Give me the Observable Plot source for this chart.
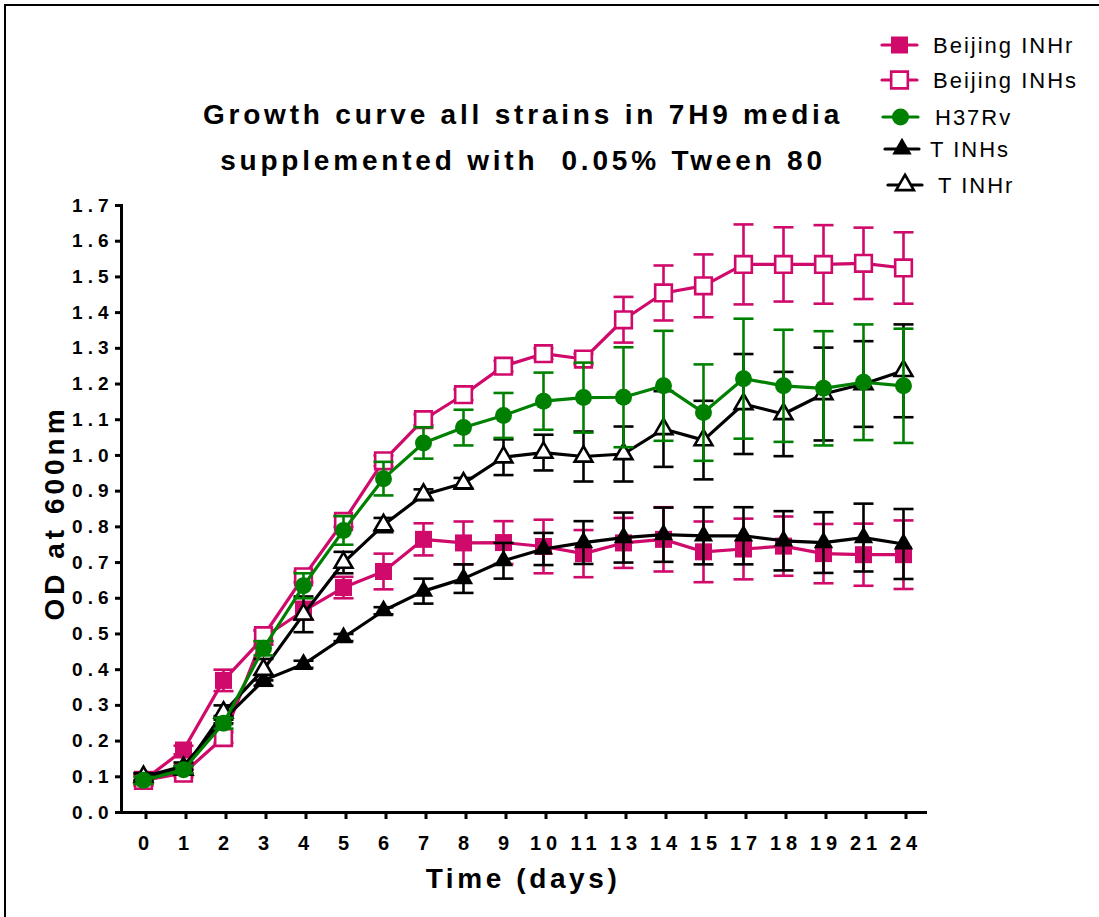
<!DOCTYPE html>
<html>
<head>
<meta charset="utf-8">
<script src="https://cdn.jsdelivr.net/npm/d3@7"></script>
<script src="https://cdn.jsdelivr.net/npm/@observablehq/plot@0.6"></script>
<style>
  body { margin: 0; background: #fff; }
  #wrap { position: relative; width: 1099px; height: 917px; overflow: hidden; background: #fff;
          font-family: "Liberation Sans", Arial, sans-serif; }
  #frameline { position: absolute; left: 4px; top: 4px; width: 1200px; height: 1000px;
               border-left: 2px solid #000; border-top: 2px solid #000; }
  #chart, #overlay { position: absolute; left: 0; top: 0; }
</style>
</head>
<body>
<div id="wrap">
  <div id="frameline"></div>
  <div id="chart"></div>
  <svg id="overlay" width="1099" height="917"></svg>
</div>
<script>
// ---------------- data ----------------
const days = ["0","1","2","3","4","5","6","7","8","9","10","11","13","14","15","17","18","19","21","24"];
const yTicks = [0.0,0.1,0.2,0.3,0.4,0.5,0.6,0.7,0.8,0.9,1.0,1.1,1.2,1.3,1.4,1.5,1.6,1.7];

const titleLines = ["Growth curve all strains in 7H9 media", "supplemented with  0.05% Tween 80"];
const xLabel = "Time (days)";
const yLabel = "OD at 600nm";

const beijingINHr   = [0.09,0.175,0.37,0.49,0.565,0.63,0.675,0.765,0.755,0.756,0.745,0.725,0.755,0.765,0.73,0.738,0.746,0.725,0.722,0.722];
const beijingINHrSD = [0.015,0.012,0.03,0.02,0.025,0.03,0.05,0.045,0.06,0.06,0.075,0.066,0.07,0.09,0.085,0.085,0.083,0.083,0.087,0.096];

const beijingINHs   = [0.09,0.11,0.21,0.495,0.66,0.815,0.985,1.1,1.17,1.25,1.285,1.27,1.38,1.455,1.475,1.535,1.535,1.535,1.538,1.525];
const beijingINHsSD = [0.01,0.01,0.015,0.015,0.015,0.015,0.015,0.015,0.015,0.015,0.015,0.015,0.064,0.077,0.088,0.112,0.104,0.11,0.1,0.1];

const h37rv   = [0.09,0.12,0.25,0.46,0.635,0.79,0.935,1.035,1.078,1.112,1.152,1.162,1.163,1.195,1.12,1.215,1.195,1.188,1.205,1.195];
const h37rvSD = [0.01,0.01,0.015,0.02,0.035,0.04,0.047,0.044,0.05,0.063,0.08,0.098,0.14,0.154,0.135,0.168,0.157,0.16,0.162,0.16];

const tINHs   = [0.1,0.13,0.26,0.37,0.415,0.49,0.565,0.62,0.655,0.705,0.738,0.756,0.77,0.778,0.775,0.775,0.761,0.756,0.77,0.752];
const tINHsSD = [0.01,0.01,0.01,0.015,0.01,0.01,0.01,0.035,0.04,0.05,0.045,0.06,0.07,0.076,0.08,0.08,0.083,0.085,0.095,0.098];

const tINHr   = [0.1,0.12,0.28,0.4,0.555,0.7,0.805,0.89,0.922,0.995,1.008,0.997,1.004,1.074,1.043,1.144,1.116,1.172,1.2,1.237];
const tINHrSD = [0.01,0.01,0.02,0.03,0.05,0.03,0.02,0.015,0.015,0.05,0.05,0.07,0.077,0.106,0.11,0.14,0.118,0.13,0.12,0.13];

const seriesNames = ["Beijing INHr","Beijing INHs","H37Rv","T INHs","T INHr"];
const drawOrder   = ["Beijing INHr","Beijing INHs","T INHs","T INHr","H37Rv"];

// ---------------- styles ----------------
const MAGENTA = "#cf0a6b", GREEN = "#008000", BLACK = "#000000";
const style = {
  "Beijing INHr": {values: beijingINHr, sd: beijingINHrSD, color: MAGENTA, symbol: "square",   filled: true,  r: 9.6},
  "Beijing INHs": {values: beijingINHs, sd: beijingINHsSD, color: MAGENTA, symbol: "square",   filled: false, r: 9.4},
  "H37Rv":        {values: h37rv,       sd: h37rvSD,       color: GREEN,   symbol: "circle",   filled: true,  r: 8.5},
  "T INHs":       {values: tINHs,       sd: tINHsSD,       color: BLACK,   symbol: "triangle", filled: true,  r: 7.2},
  "T INHr":       {values: tINHr,       sd: tINHrSD,       color: BLACK,   symbol: "triangle", filled: false, r: 6.6}
};

const capSymbol = { draw(ctx) { ctx.moveTo(-10, 0); ctx.lineTo(10, 0); } };

const marks = [];
for (const name of drawOrder) {
  const s = style[name];
  const data = s.values.map((v, i) => ({series: name, day: days[i], v, lo: v - s.sd[i], hi: v + s.sd[i]}));
  marks.push(Plot.ruleX(data, {x: "day", y1: "lo", y2: "hi", stroke: s.color, strokeWidth: 2.6}));
  marks.push(Plot.dot(data, {x: "day", y: "hi", symbol: capSymbol, r: 5, fill: "none", stroke: s.color, strokeWidth: 2.6}));
  marks.push(Plot.dot(data, {x: "day", y: "lo", symbol: capSymbol, r: 5, fill: "none", stroke: s.color, strokeWidth: 2.6}));
  marks.push(Plot.line(data, {x: "day", y: "v", stroke: s.color, strokeWidth: 3.2}));
  marks.push(Plot.dot(data, {x: "day", y: "v", symbol: s.symbol, r: s.r,
    fill: s.filled ? s.color : "white", stroke: s.color, strokeWidth: s.filled ? 0 : 2.6}));
}

const chart = Plot.plot({
  width: 1099, height: 917,
  marginLeft: 121, marginRight: 174, marginTop: 205, marginBottom: 105,
  x: {type: "point", domain: days, padding: 0.5},
  y: {domain: [0, 1.7]},
  style: {fontFamily: "'Liberation Sans', Arial, sans-serif", background: "transparent", color: "#000"},
  marks: [
    Plot.axisY(yTicks, {tickSize: 6, tickPadding: 2, fontSize: 19, fontWeight: "bold", strokeWidth: 3,
      tickFormat: (d) => d.toFixed(1), label: null}),
    Plot.axisX({tickSize: 7, tickPadding: 16, fontSize: 20, fontWeight: "bold", strokeWidth: 3, dx: 2.5, label: null}),
    Plot.frame({anchor: "left", strokeWidth: 3}),
    Plot.frame({anchor: "bottom", strokeWidth: 3}),
    ...marks
  ]
});
document.getElementById("chart").append(chart);
chart.querySelectorAll('g[aria-label="y-axis tick label"] text').forEach(t => t.style.letterSpacing = "5px");
chart.querySelectorAll('g[aria-label="x-axis tick label"] text').forEach(t => t.style.letterSpacing = "5px");

// ---------------- titles & legend ----------------
const ov = d3.select("#overlay").style("font-family", "'Liberation Sans', Arial, sans-serif");
ov.append("text").attr("x", 523).attr("y", 124).attr("text-anchor", "middle")
  .attr("font-size", 28).attr("font-weight", "bold").style("letter-spacing", "3.8px")
  .style("white-space", "pre").text(titleLines[0]);
ov.append("text").attr("x", 523).attr("y", 170).attr("text-anchor", "middle")
  .attr("font-size", 28).attr("font-weight", "bold").style("letter-spacing", "3.8px")
  .style("white-space", "pre").text(titleLines[1]);
ov.append("text").attr("x", 523).attr("y", 888).attr("text-anchor", "middle")
  .attr("font-size", 28).attr("font-weight", "bold").style("letter-spacing", "3.6px").text(xLabel);
ov.append("text").attr("transform", "translate(64,513) rotate(-90)").attr("text-anchor", "middle")
  .attr("font-size", 28).attr("font-weight", "bold").style("letter-spacing", "4px").text(yLabel);

const legendRows = [
  {cy: 45,  x0: 882, x1: 917, tx: 933},
  {cy: 80,  x0: 882, x1: 917, tx: 933},
  {cy: 117, x0: 883, x1: 918, tx: 935},
  {cy: 149, x0: 885, x1: 919, tx: 930},
  {cy: 185, x0: 888, x1: 922, tx: 938}
];
const symType = {square: d3.symbolSquare, circle: d3.symbolCircle, triangle: d3.symbolTriangle};
seriesNames.forEach((name, i) => {
  const s = style[name], L = legendRows[i];
  const cx = (L.x0 + L.x1) / 2;
  ov.append("line").attr("x1", L.x0).attr("x2", L.x1).attr("y1", L.cy).attr("y2", L.cy)
    .attr("stroke", s.color).attr("stroke-width", 3.2).attr("stroke-linecap", "round");
  ov.append("path").attr("d", d3.symbol(symType[s.symbol], Math.PI * s.r * s.r)())
    .attr("transform", `translate(${cx},${L.cy})`)
    .attr("fill", s.filled ? s.color : "white").attr("stroke", s.filled ? "none" : s.color)
    .attr("stroke-width", 2.6);
  ov.append("text").attr("x", L.tx).attr("y", L.cy + 8).attr("font-size", 22)
    .style("letter-spacing", "2px").text(name);
});
</script>
</body>
</html>
